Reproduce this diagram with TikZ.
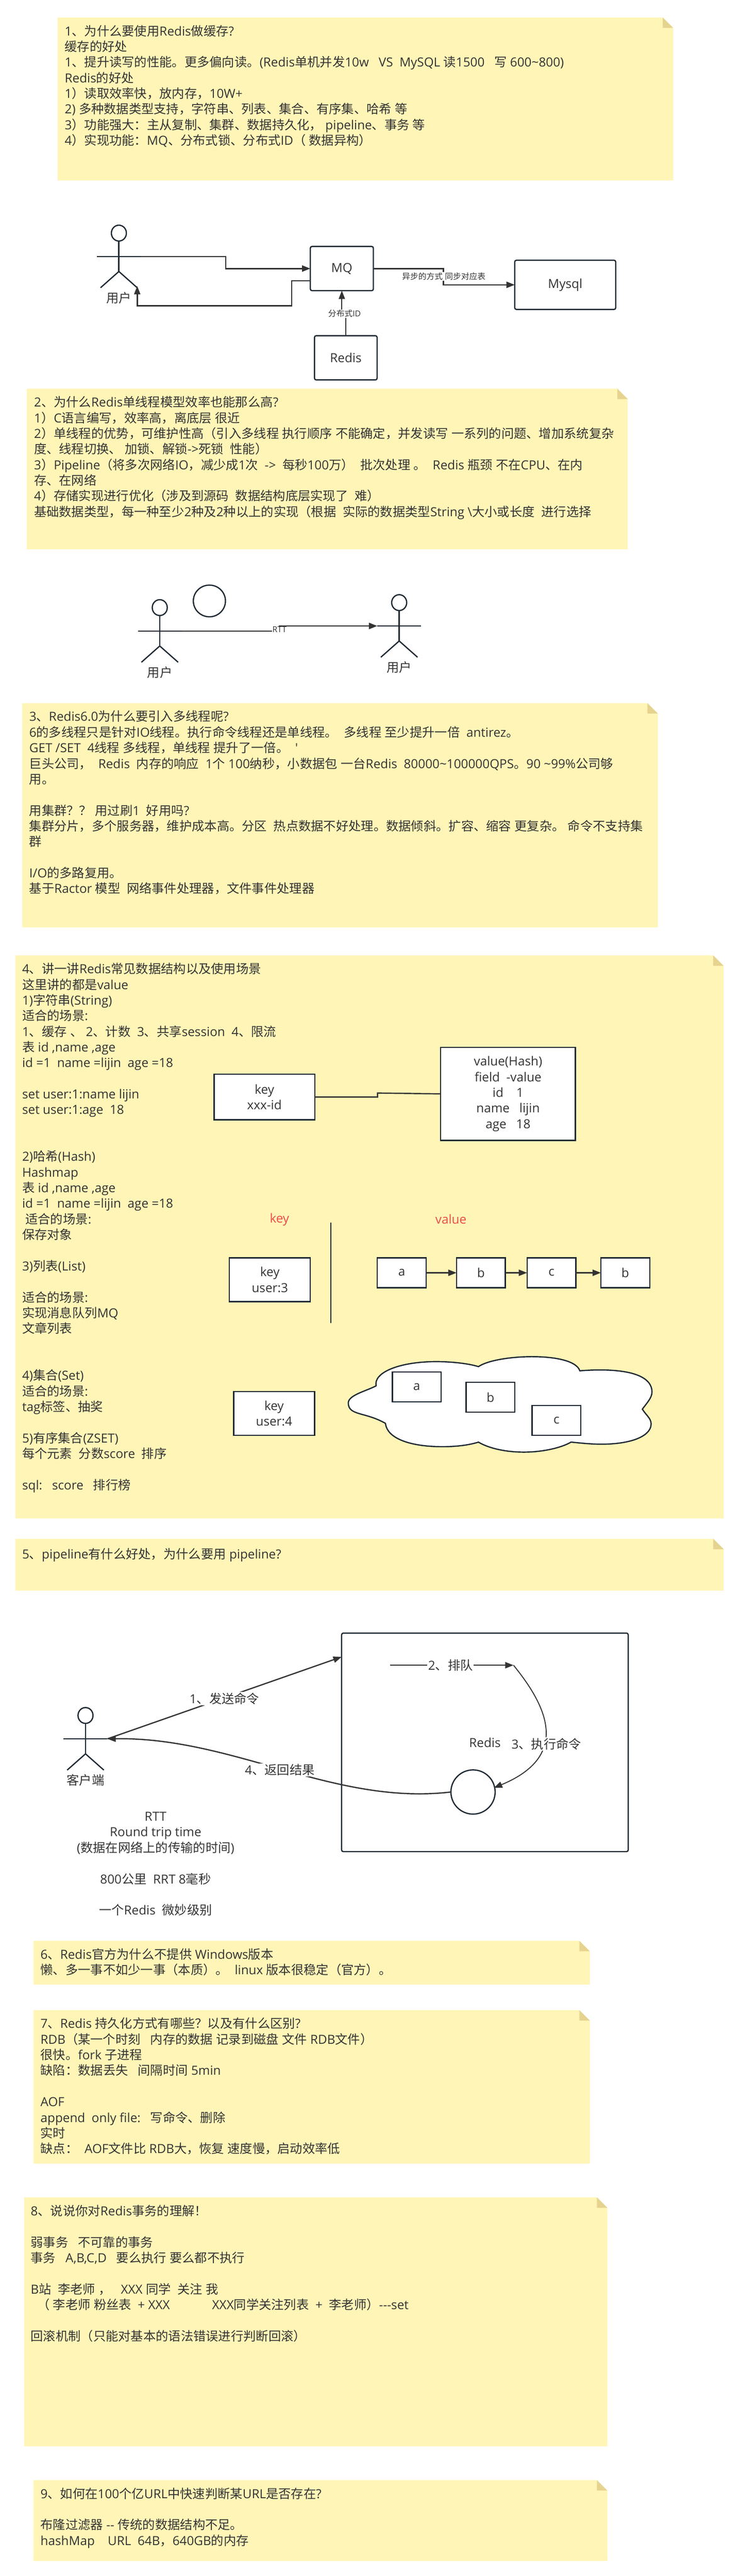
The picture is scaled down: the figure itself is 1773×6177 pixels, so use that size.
\documentclass[tikz,border=0pt]{standalone}
\usepackage{fontspec}
\setmainfont{Open Sans}
\newfontfamily\cjkfont{Noto Sans CJK SC}
\newXeTeXintercharclass\cjkclass
\newcount\cjkloop
\cjkloop="4E00 \loop\XeTeXcharclass\cjkloop=\cjkclass \advance\cjkloop 1 \ifnum\cjkloop<"A000 \repeat
\cjkloop="3000 \loop\XeTeXcharclass\cjkloop=\cjkclass \advance\cjkloop 1 \ifnum\cjkloop<"3040 \repeat
\cjkloop="FF00 \loop\XeTeXcharclass\cjkloop=\cjkclass \advance\cjkloop 1 \ifnum\cjkloop<"FFF0 \repeat
\XeTeXinterchartokenstate=1
\XeTeXinterchartoks 0 \cjkclass={\begingroup\cjkfont}
\XeTeXinterchartoks 4095 \cjkclass={\begingroup\cjkfont}
\XeTeXinterchartoks \cjkclass 0={\endgroup}
\XeTeXinterchartoks \cjkclass 4095={\endgroup}
\usetikzlibrary{arrows.meta,shapes.geometric}
\definecolor{paper}{HTML}{FFF5B7}
\definecolor{foldc}{HTML}{E6D38F}
\definecolor{inkc}{HTML}{1F2933}
\definecolor{wirec}{HTML}{333333}
\definecolor{textc}{HTML}{333333}
\definecolor{redc}{HTML}{EE4B4B}
\tikzstyle{every node}=[font=\fontsize{30}{37.5}\selectfont, text=textc]
\tikzstyle{notetext}=[anchor=north west, inner sep=0pt, align=left, execute at begin node={\rule{0pt}{29.5pt}}]
\tikzstyle{midtext}=[anchor=north, inner sep=0pt, align=center, execute at begin node={\rule{0pt}{29.5pt}}]
\tikzstyle{box}=[rectangle, draw=inkc, fill=white, line width=3pt, inner sep=0pt, outer sep=0pt, align=center]
\tikzstyle{rbox}=[box, rounded corners=4pt]
\tikzstyle{ring}=[ellipse, draw=inkc, fill=white, line width=3pt, inner sep=0pt, outer sep=0pt]
\tikzstyle{tag}=[fill=white, inner sep=1pt, font=\fontsize{19.5}{24}\selectfont]
\tikzstyle{lab}=[fill=white, inner sep=2pt]
\tikzstyle{rubric}=[text=redc]
\tikzstyle{wire}=[draw=wirec, line width=3pt]
\tikzstyle{edge}=[wire, -{Triangle[length=20pt,width=15pt]}]
\tikzstyle{thinedge}=[edge, line width=2.3pt]
\tikzstyle{limb}=[draw=inkc, line width=3pt]
\newcommand{\stickynote}[4]{
	\pgfmathsetmacro{\foldx}{#3-25}
	\pgfmathsetmacro{\foldy}{#2+25}
	\fill[paper] (#1,#2) -- (\foldx,#2) -- (#3,\foldy) -- (#3,#4) -- (#1,#4) -- cycle;
	\fill[foldc] (\foldx,#2) -- (#3,\foldy) -- (\foldx,\foldy) -- cycle;
}
\newcommand{\stickman}[4]{
	\draw (#2,#3) node[ring, minimum width=36pt, minimum height=38pt] (#1-head) {};
	\coordinate (#1-arml) at ([xshift=-52.5pt,yshift=-56pt]#1-head.center);
	\coordinate (#1-armr) at ([xshift=52.5pt,yshift=-56pt]#1-head.center);
	\coordinate (#1-hip) at ([yshift=-92pt]#1-head.center);
	\coordinate (#1-footl) at ([xshift=-44pt,yshift=-131pt]#1-head.center);
	\coordinate (#1-footr) at ([xshift=44pt,yshift=-131pt]#1-head.center);
	\draw[limb] (#1-head) -- (#1-hip);
	\draw[limb] (#1-arml) -- (#1-armr);
	\draw[limb] (#1-footl) -- (#1-hip) -- (#1-footr);
	\node at ([yshift=-155pt]#1-head.center) (#1-label) {#4};
}
\begin{document}
\begin{tikzpicture}[x=1pt,y=-1pt]
	\useasboundingbox (0,0) rectangle (1773,6177);

	%The first note
	\stickynote{138}{42}{1614}{433}
	\draw (155,60) node[notetext] (note1) {1、为什么要使用Redis做缓存?\\
		缓存的好处\\
		1、提升读写的性能。更多偏向读。(Redis单机并发10w~~~VS~~MySQL 读1500~~~写 600\textasciitilde800)\\
		Redis的好处\\
		1）读取效率快，放内存，10W+\\
		2) 多种数据类型支持，字符串、列表、集合、有序集、哈希 等\\
		3）功能强大：主从复制、集群、数据持久化， pipeline、事务 等\\
		4）实现功能：MQ、分布式锁、分布式ID（ 数据异构）};

	%The MQ graph
	\stickman{user1}{285}{559}{用户}
	\draw (819.5,644) node[rbox, minimum width=151pt, minimum height=106pt] (mq) {MQ};
	\draw (1355,683) node[rbox, minimum width=242pt, minimum height=118pt] (mysql) {Mysql};
	\draw (829,858) node[rbox, minimum width=150pt, minimum height=106pt] (redis) {Redis};
	\coordinate (bend-in) at (541,644);
	\coordinate (mq-back) at (744,673);
	\coordinate (bend-back) at (699,733);
	\coordinate (bend-out) at (1063,683);
	\coordinate (bend-id) at (824,751);
	\draw[edge] (user1-armr) -| (bend-in) -- (mq.west);
	\draw[edge] (mq-back) -| (bend-back) -| ([yshift=4pt]user1-footr);
	\draw[edge] (mq.east) -| (bend-out) -- (mysql.west);
	\draw[thinedge] (redis.north) |- (bend-id) -| (mq.south);
	\draw (1064,663) node[tag] (tag-sync) {异步的方式 同步对应表};
	\draw (826,752) node[tag] (tag-id) {分布式ID};

	%The second note
	\stickynote{64.5}{932}{1505}{1317}
	\draw (81.5,950) node[notetext] (note2) {2、为什么Redis单线程模型效率也能那么高?\\
		1）C语言编写，效率高，离底层 很近\\
		2）单线程的优势，可维护性高（引入多线程 执行顺序 不能确定，并发读写 一系列的问题、增加系统复杂\\
		度、线程切换、 加锁、解锁->死锁~~性能）\\
		3）Pipeline（将多次网络IO，减少成1次~~->~~每秒100万）~~批次处理 。~~Redis 瓶颈 不在CPU、在内\\
		存、在网络\\
		4）存储实现进行优化（涉及到源码~~数据结构底层实现了~~难）\\
		基础数据类型，每一种至少2种及2种以上的实现（根据~~实际的数据类型String \textbackslash{}大小或长度~~进行选择};

	%The RTT graph
	\stickman{user2}{383}{1457}{用户}
	\stickman{user3}{957}{1445}{用户}
	\draw (502,1441) node[ring, minimum width=77pt, minimum height=76pt] (ball) {};
	\coordinate (bend-rtt) at (670,1507);
	\draw[edge] (user2-armr) -| (bend-rtt) |- (user3-arml);
	\draw (670,1510) node[tag] (tag-rtt) {RTT};

	%The third note
	\stickynote{53}{1686}{1577}{2224}
	\draw (70,1704) node[notetext] (note3) {3、Redis6.0为什么要引入多线程呢?\\
		6的多线程只是针对IO线程。执行命令线程还是单线程。~~多线程 至少提升一倍~~antirez。\\
		GET /SET~~4线程 多线程，单线程 提升了一倍。~~\textquotesingle\\
		巨头公司，~~Redis~~内存的响应~~1个 100纳秒，小数据包 一台Redis~~80000\textasciitilde100000QPS。90 \textasciitilde99\%公司够\\
		用。\\
		~\\
		用集群？？~用过刷1~~好用吗?\\
		集群分片，多个服务器，维护成本高。分区~~热点数据不好处理。数据倾斜。扩容、缩容 更复杂。~命令不支持集\\
		群\\
		~\\
		I/O的多路复用。\\
		基于Ractor 模型~~网络事件处理器，文件事件处理器};

	%The fourth note
	\stickynote{37}{2291}{1735}{3641}
	\draw (53,2309) node[notetext] (note4) {4、讲一讲Redis常见数据结构以及使用场景\\
		这里讲的都是value\\
		1)字符串(String)\\
		适合的场景:\\
		1、缓存 、~2、计数~~3、共享session~~4、限流\\
		表 id ,name ,age\\
		id =1~~name =lijin~~age =18\\
		~\\
		set user:1:name lijin\\
		set user:1:age~~18\\
		~\\
		~\\
		2)哈希(Hash)\\
		Hashmap\\
		表 id ,name ,age\\
		id =1~~name =lijin~~age =18\\
		~适合的场景:\\
		保存对象\\
		~\\
		3)列表(List)\\
		~\\
		适合的场景:\\
		实现消息队列MQ\\
		文章列表\\
		~\\
		~\\
		4)集合(Set)\\
		适合的场景:\\
		tag标签、抽奖\\
		~\\
		5)有序集合(ZSET)\\
		每个元素~~分数score~~排序\\
		~\\
		sql:~~~score~~~排行榜};

	%The string value
	\draw (634,2630.5) node[box, minimum width=241pt, minimum height=109pt] (key1) {key\\xxx-id};
	\draw (1218,2623) node[box, minimum width=323pt, minimum height=223pt] (val1) {value(Hash)\\field~~-value\\id~~~~1\\name~~~lijin\\age~~~18};
	\coordinate (bend-key) at (905,2621);
	\draw[wire] (key1.east) -| (bend-key) -- (val1.west);

	%The list value
	\draw (670,2924) node[rubric] (keyhead) {key};
	\draw (1081,2924) node[rubric] (valhead) {value};
	\coordinate (split-top) at (793,2931);
	\coordinate (split-bot) at (793,3172);
	\draw[draw=inkc, line width=2pt] (split-top) -- (split-bot);
	\draw (647,3068.5) node[box, minimum width=194pt, minimum height=105pt] (key3) {key\\user:3};
	\draw (963,3052) node[box, minimum width=117pt, minimum height=72pt] (la) {a};
	\draw (1153,3052) node[box, minimum width=117pt, minimum height=72pt] (lb) {b};
	\draw (1322,3052) node[box, minimum width=117pt, minimum height=72pt] (lc) {c};
	\draw (1499,3052) node[box, minimum width=117pt, minimum height=72pt] (ld) {b};
	\draw[edge] (la) -- (lb);
	\draw[edge] (lb) -- (lc);
	\draw[edge] (lc) -- (ld);

	%The set value
	\draw (657,3389.5) node[box, minimum width=194pt, minimum height=105pt] (key4) {key\\user:4};
	\draw[draw=inkc, fill=white, line width=3pt] (1147,3277)
		.. controls (1190,3247) and (1375,3240) .. (1390,3287)
		.. controls (1480,3280) and (1563,3290) .. (1563,3338)
		.. controls (1563,3352) and (1550,3365) .. (1540,3379)
		.. controls (1550,3395) and (1560,3400) .. (1561,3414)
		.. controls (1561,3445) and (1510,3463) .. (1442,3463)
		.. controls (1415,3463) and (1390,3460) .. (1369,3458)
		.. controls (1345,3472) and (1300,3482) .. (1256,3482)
		.. controls (1210,3482) and (1170,3472) .. (1147,3458)
		.. controls (1125,3465) and (1095,3469) .. (1061,3469)
		.. controls (985,3469) and (928,3450) .. (924,3413)
		.. controls (875,3385) and (835,3395) .. (835,3364)
		.. controls (835,3345) and (880,3335) .. (901.6,3323)
		.. controls (895,3290) and (960,3265) .. (1046,3265)
		.. controls (1085,3265) and (1125,3270) .. (1147,3277) -- cycle;
	\draw (999,3325.5) node[box, minimum width=117pt, minimum height=72pt] (sa) {a};
	\draw (1176,3350.5) node[box, minimum width=117pt, minimum height=72pt] (sb) {b};
	\draw (1334,3406) node[box, minimum width=117pt, minimum height=72pt] (sc) {c};

	%The fifth note
	\stickynote{37}{3690}{1735}{3814}
	\draw (53,3708) node[notetext] (note5) {5、pipeline有什么好处，为什么要用 pipeline?};

	%The pipeline graph
	\stickman{client}{205}{4113.5}{客户端}
	\draw (1162.5,4178) node[rbox, minimum width=687pt, minimum height=524pt] (server) {Redis};
	\draw (1134,4297) node[ring, minimum width=106pt, minimum height=106pt] (queue) {};
	\coordinate (server-in) at (819,3973);
	\coordinate (q-start) at (935.5,3993);
	\coordinate (q-end) at (1231,3993);
	\coordinate (q-tip) at (1184,4287);
	\draw[edge] (client-armr) -- (server-in);
	\draw[edge] (q-start) -- (q-end);
	\draw[thinedge] (q-end) .. controls (1310,4090) and (1370,4210) .. (q-tip);
	\draw[edge] (queue.west) .. controls (800,4330) and (560,4165) .. (client-armr);
	\draw (538,4073) node[lab] (lab-send) {1、发送命令};
	\draw (1080,3993) node[lab] (lab-queue) {2、排队};
	\draw (1310,4182) node[lab] (lab-exec) {3、执行命令};
	\draw (671,4244) node[lab] (lab-back) {4、返回结果};
	\draw (373,4345) node[midtext] (rtt-text) {RTT\\
		Round trip time\\
		(数据在网络上的传输的时间)\\
		~\\
		800公里~~RRT 8毫秒\\
		~\\
		一个Redis~~微妙级别};

	%The sixth note
	\stickynote{80}{4654}{1414}{4759}
	\draw (97,4672) node[notetext] (note6) {6、Redis官方为什么不提供 Windows版本\\
		懒、多一事不如少一事（本质）。~~linux 版本很稳定（官方）。};

	%The seventh note
	\stickynote{80}{4820}{1414}{5188}
	\draw (97,4838) node[notetext] (note7) {7、Redis 持久化方式有哪些？以及有什么区别?\\
		RDB（某一个时刻~~~内存的数据 记录到磁盘 文件 RDB文件）\\
		很快。fork 子进程\\
		缺陷：数据丢失~~~间隔时间 5min\\
		~\\
		AOF\\
		append~~only file:~~~写命令、删除\\
		实时\\
		缺点：~~AOF文件比 RDB大，恢复 速度慢，启动效率低};

	%The eighth note
	\stickynote{58}{5269}{1456}{5866}
	\draw (73.5,5287) node[notetext] (note8) {8、说说你对Redis事务的理解！\\
		~\\
		弱事务~~~不可靠的事务\\
		事务~~~A,B,C,D~~~要么执行 要么都不执行\\
		~\\
		B站~~李老师 ，~~~XXX 同学~~关注 我\\
		~~（ 李老师 粉丝表~~+ XXX~~~~~~~~~~~~~XXX同学关注列表~~+~~李老师）{-}{-}{-}set\\
		~\\
		回滚机制（只能对基本的语法错误进行判断回滚）};

	%The ninth note
	\stickynote{80}{5947}{1456}{6141}
	\draw (97,5965) node[notetext] (note9) {9、如何在100个亿URL中快速判断某URL是否存在?\\
		~\\
		布隆过滤器 {-}{-} 传统的数据结构不足。\\
		hashMap~~~~URL~~64B，640GB的内存};
\end{tikzpicture}
\end{document}
